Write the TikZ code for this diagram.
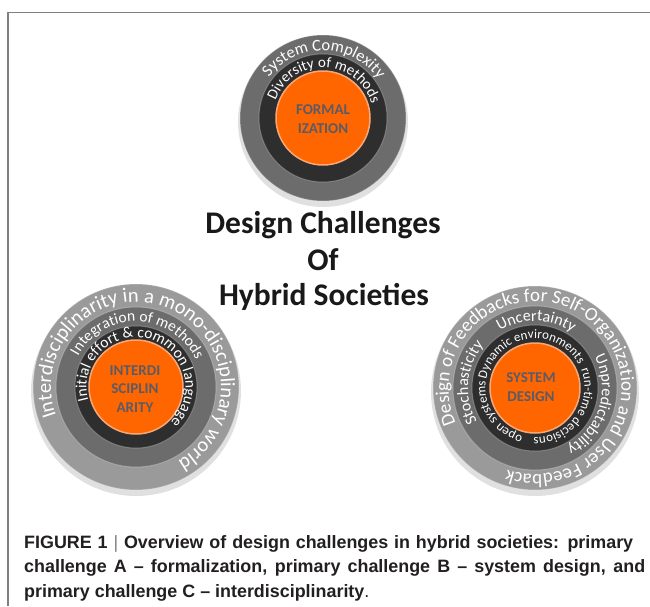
\documentclass[tikz,border=0pt]{standalone}
\usepackage{fontspec}
\setmainfont{Carlito}
\newfontfamily\capfont{Liberation Sans}
\usetikzlibrary{decorations.text}
\definecolor{ringlight}{HTML}{9A9A9A}
\definecolor{ringmid}{HTML}{6C6C6C}
\definecolor{ringdark}{HTML}{2E2E2E}
\definecolor{ringorange}{HTML}{FF6600}
\definecolor{orangerim}{HTML}{F6A878}
\definecolor{innertext}{HTML}{5A5B68}
\definecolor{captext}{HTML}{231F20}
\newcommand{\ringtext}[5]{%
  \path[shift={(#1)}, decorate, decoration={text along path, text align=center,
    text={|\fontsize{#4}{#4}\selectfont\color{white}|#5}}]
    ({#3+175}:#2) arc[start angle={#3+175}, end angle={#3-175}, radius=#2];}

\begin{document}
\begin{tikzpicture}[x=1pt,y=1pt,
  inner/.style={font=\bfseries\fontsize{15}{18.5}\selectfont, text=innertext, align=center},
  title/.style={font=\bfseries\fontsize{31.5}{33}\selectfont, text=black!90, anchor=base},
  captionline/.style={font=\capfont\bfseries\fontsize{17.9}{20}\selectfont, text=captext, anchor=base west, inner sep=0}]
  \useasboundingbox (0,0) rectangle (650,-606);
  \fill[white] (0,0) rectangle (650,-606);
  \draw[gray, line width=1.4] (8,-606) -- (8,-12.5) -- (650,-12.5);
  \coordinate (form) at (323,-118);
  \coordinate (inter) at (136,-387);
  \coordinate (sys) at (535,-388);
  \foreach \c/\r in {form/83,inter/103,sys/102}
    \fill[black, opacity=0.12] ([yshift=-4]\c) circle (\r+2);
  \foreach \c/\r/\col in {form/83/ringmid, form/64/ringdark,
      inter/103/ringlight, inter/80/ringmid, inter/61/ringdark,
      sys/102/ringlight, sys/82/ringmid, sys/63/ringdark}
    \fill[fill=\col, draw=white, draw opacity=0.25, line width=1] (\c) circle (\r);
  \foreach \c/\r in {form/47,inter/47,sys/45}
    \fill[fill=ringorange, draw=orangerim, line width=1.5] (\c) circle (\r);
  \ringtext{form}{67.5}{89}{16.5}{System Complexity}
  \ringtext{form}{50.5}{88}{15}{Diversity of methods}
  \ringtext{inter}{85}{69.5}{20.5}{Interdisciplinarity in a mono-disciplinary world}
  \ringtext{inter}{65.5}{88}{15.5}{Integration of methods}
  \ringtext{inter}{49.5}{75}{15.5}{Initial effort {\&} common language}
  \ringtext{sys}{86.5}{47.5}{19}{Design of Feedbacks for Self-Organization and User Feedback}
  \ringtext{sys}{67}{175}{16}{Stochasticity}
  \ringtext{sys}{67}{89}{16}{Uncertainty}
  \ringtext{sys}{67}{-17}{16}{Unpredictability}
  \ringtext{sys}{49.5}{99}{13}{Dynamic environments}
  \ringtext{sys}{49.5}{-35}{13}{run-time decisions}
  \ringtext{sys}{49.5}{-146}{13}{open systems}
  \node[inner] (formlabel) at (323,-119) {FORMAL\\IZATION};
  \node[inner] (interlabel) at (135,-389) {INTERDI\\SCIPLIN\\ARITY};
  \node[inner] (syslabel) at (531,-387) {SYSTEM\\DESIGN};
  \node[title] (title1) at (323,-233) {Design Challenges};
  \node[title] (title2) at (323,-270) {Of};
  \node[title] (title3) at (324,-305) {Hybrid Societies};
  \node[captionline] (cap1) at (24,-548.3) {\makebox[609pt][s]{FIGURE 1 {\color{gray}\mdseries|} Overview of design challenges in hybrid societies: primary}};
  \node[captionline] (cap2) at (24,-572.7) {\makebox[621pt][s]{challenge A – formalization, primary challenge B – system design, and}};
  \node[captionline] (cap3) at (24,-597.3) {primary challenge C – interdisciplinarity{\mdseries.}};
\end{tikzpicture}
\end{document}
